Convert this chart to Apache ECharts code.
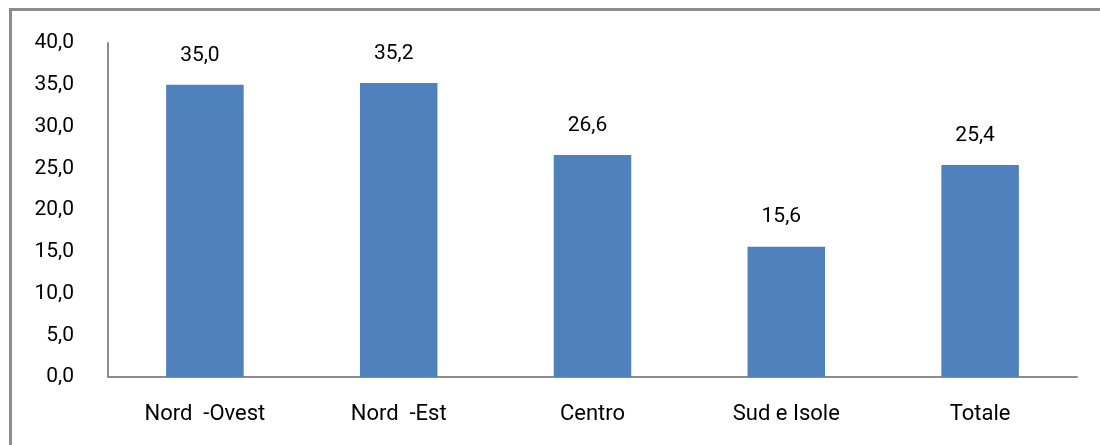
<!DOCTYPE html>
<html><head><meta charset="utf-8">
<script src="https://cdn.jsdelivr.net/npm/echarts@6/dist/echarts.min.js"></script>
<style>html,body{margin:0;padding:0;background:#fff}#c{width:1100px;height:445px}</style>
</head><body><div id="c"></div>
<script>
var categories = ['Nord  -Ovest', 'Nord  -Est', 'Centro', 'Sud e Isole', 'Totale'];
var values = [35.0, 35.2, 26.6, 15.6, 25.4];
var yTicks = { min: 0, max: 40, interval: 5 };

function fmt(v){ return Number(v).toFixed(1).replace('.', ','); }

var chart = echarts.init(document.getElementById('c'), null, {renderer:'canvas'});
chart.setOption({
  animation: false,
  backgroundColor: '#fff',
  textStyle: { fontFamily: 'Roboto' },
  graphic: [{
    type: 'rect', silent: true, z: 100,
    shape: { x: 10.5, y: 9.5, width: 1200, height: 600 },
    style: { fill: 'none', stroke: '#8c8c8c', lineWidth: 3 }
  }],
  grid: { left: 108, right: 23, top: 43, bottom: 68, containLabel: false },
  xAxis: {
    type: 'category', data: categories,
    axisLine: { show: true, lineStyle: { color: '#8c8c8c', width: 2 } },
    axisTick: { show: false },
    axisLabel: { color: '#000', fontSize: 22, margin: 26, fontFamily: 'Roboto' }
  },
  yAxis: {
    type: 'value', min: yTicks.min, max: yTicks.max, interval: yTicks.interval,
    axisLine: { show: true, lineStyle: { color: '#8c8c8c', width: 2 } },
    axisTick: { show: false },
    splitLine: { show: false },
    axisLabel: { color: '#000', fontSize: 21, margin: 34, formatter: fmt, fontFamily: 'Roboto' }
  },
  series: [{
    type: 'bar', data: values, barWidth: '40%',
    itemStyle: { color: '#4F81BD' },
    label: { show: true, position: 'top', distance: 19, offset: [-5, 0], color: '#000', fontSize: 21, fontFamily: 'Roboto', formatter: function(p){ return fmt(p.value); } }
  }]
});
</script></body></html>
